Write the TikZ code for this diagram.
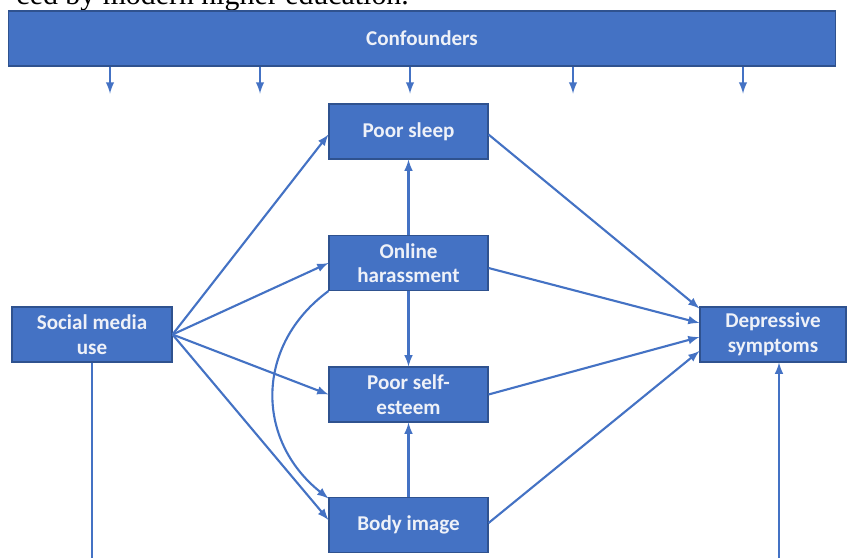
\documentclass[tikz,border=0pt]{standalone}
\usepackage{fontspec}
\setmainfont{Carlito}
\newfontfamily\pageserif{Liberation Serif}
\usetikzlibrary{arrows}
\definecolor{boxblue}{HTML}{4472C4}
\definecolor{edgeblue}{HTML}{2F528F}
\definecolor{boxtext}{HTML}{EEF1F8}

\tikzset{
  varbox/.style={rectangle,draw=edgeblue,fill=boxblue,line width=0.6pt,
    text=boxtext,font=\bfseries\fontsize{12}{14}\selectfont,align=center,
    minimum width=3.18cm,minimum height=1.1cm,inner sep=2pt},
  path/.style={->,draw=boxblue,line width=1.2pt}
}

\begin{document}
\begin{tikzpicture}[x=0.02cm,y=-0.02cm,>=latex]
  \useasboundingbox (0,0) rectangle (848,558);
  \fill[white] (0,0) rectangle (848,558);

  \node[anchor=base east,font=\pageserif\fontsize{17}{20}\selectfont] (caption) at (415,4) {ced by modern higher education.};

  \node[varbox,minimum width=16.56cm] (conf) at (422,38.5) {Confounders};
  \foreach \x in {110,260,410,573,743}
    \draw[path] (conf.south -| \x,0) -- ++(0,27);

  \node[varbox] (sleep) at (408.5,131.5) {Poor sleep};
  \node[varbox] (harass) at (408.5,263) {Online\\harassment};
  \node[varbox] (esteem) at (408.5,394.5) {Poor self-\\esteem};
  \node[varbox] (body) at (408.5,525) {Body image};
  \node[varbox,minimum width=3.2cm] (social) at (92,334.5) {Social media\\use};
  \node[varbox,minimum width=2.92cm] (dep) at (773,334.5) {Depressive\\symptoms};

  % social media use to the mediators
  \draw[path] (social.east) -- ([yshift=-0.06cm]sleep.west);
  \draw[path] (social.east) -- (harass.west);
  \draw[path] (social.east) -- (esteem.west);
  \draw[path] (social.east) -- ([yshift=0.1cm]body.west);

  % between the mediators
  \draw[path] (harass.north) -- (sleep.south);
  \draw[path] (harass.south) -- (esteem.north);
  \draw[path] (body.north) -- (esteem.south);
  \draw[path] (harass.south west) .. controls (255,345) and (255,440) .. ([yshift=-0.03cm]body.north west);

  % mediators to depressive symptoms
  \draw[path] ([yshift=-0.06cm]sleep.east) -- ([yshift=0.52cm]dep.west);
  \draw[path] ([yshift=-0.1cm]harass.east) -- ([yshift=0.23cm]dep.west);
  \draw[path] (esteem.east) -- ([yshift=-0.05cm]dep.west);
  \draw[path] ([yshift=0.04cm]body.east) -- ([yshift=-0.33cm]dep.west);

  % lines leaving the picture
  \coordinate (socout) at (92,558);
  \coordinate (depin) at (779,558);
  \draw[path,-] (social.south) -- (socout);
  \draw[path] (depin) -- (depin |- dep.south);
\end{tikzpicture}
\end{document}
